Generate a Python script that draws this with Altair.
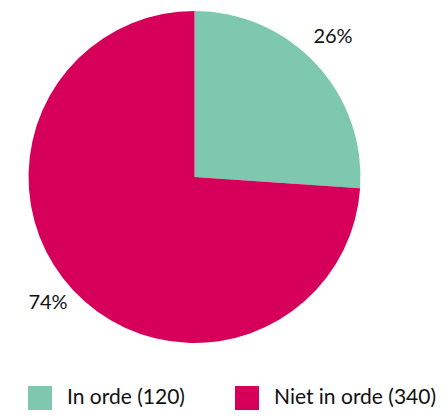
import altair as alt
import pandas as pd

categories = ["In orde (120)", "Niet in orde (340)"]
counts = [120, 340]
pct_labels = ["26%", "74%"]
colors = ["#7dc8ae", "#d6005b"]

df = pd.DataFrame({
    "cat": categories,
    "count": counts,
    "label": pct_labels,
    "idx": list(range(len(categories))),
})

FONT = "Lato"

base = alt.Chart(df).encode(
    theta=alt.Theta("count:Q", stack=True),
    order=alt.Order("idx:Q"),
)

pie = base.mark_arc(outerRadius=166, stroke=None).encode(
    x=alt.value(186.5),
    y=alt.value(169),
    color=alt.Color(
        "cat:N",
        sort=categories,
        scale=alt.Scale(domain=categories, range=colors),
        legend=alt.Legend(
            title=None,
            orient="none",
            legendX=20,
            legendY=378,
            direction="horizontal",
            symbolType="square",
            symbolSize=576,
            symbolStrokeWidth=0,
            symbolOpacity=1,
            labelFontSize=21,
            labelFont=FONT,
            labelColor="#111111",
            labelOffset=15,
            columnPadding=50,
            labelLimit=300,
        ),
    ),
)

text = base.mark_text(radius=195, fontSize=20, font=FONT, color="#111111", dx=-4, dy=-7).encode(
    x=alt.value(186.5),
    y=alt.value(169),
    text="label:N",
)

chart = (pie + text).properties(
    width=432,
    height=402,
    autosize=alt.AutoSizeParams(type="none"),
    padding=0,
).configure_view(stroke=None)

chart.save("out.html", embed_options={"renderer": "svg", "actions": False})
